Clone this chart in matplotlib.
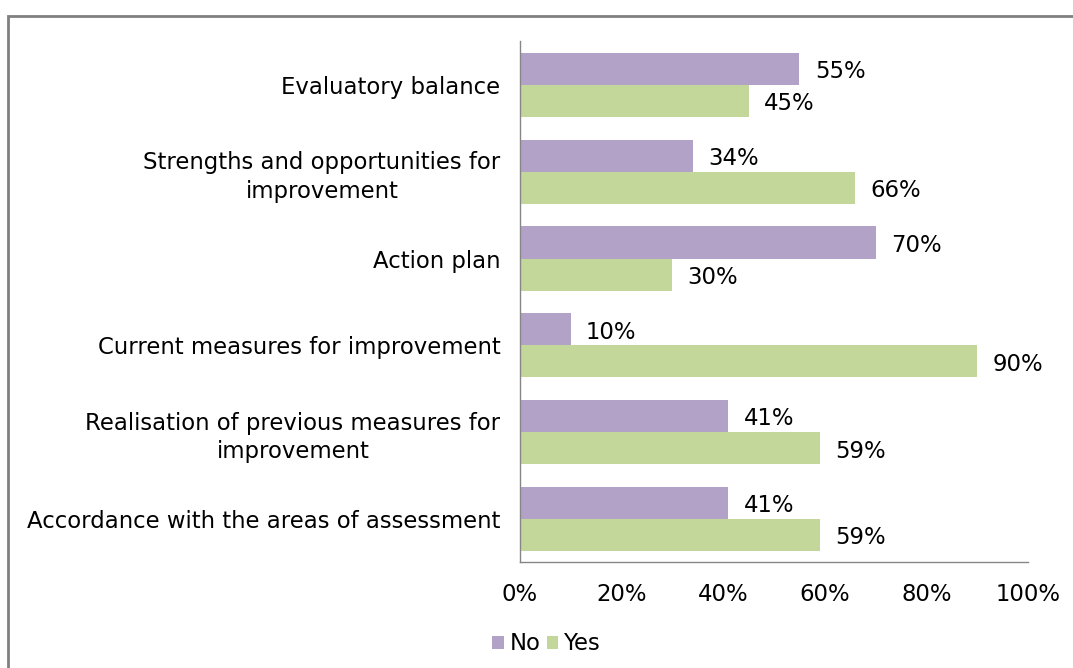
import matplotlib
matplotlib.use('Agg')
import matplotlib.pyplot as plt
import numpy as np
from matplotlib.patches import Rectangle

categories = [
    'Evaluatory balance',
    'Strengths and opportunities for\nimprovement',
    'Action plan',
    'Current measures for improvement',
    'Realisation of previous measures for\nimprovement',
    'Accordance with the areas of assessment',
]
no_values = [55, 34, 70, 10, 41, 41]
yes_values = [45, 66, 30, 90, 59, 59]
x_ticks = [0, 20, 40, 60, 80, 100]

purple = '#B3A2C7'
green = '#C4D79B'
axis_gray = '#868686'
fs = 16.4

plt.rcParams['font.family'] = ['DejaVu Sans']

fig = plt.figure(figsize=(10.73, 6.68), dpi=100)
ax = fig.add_axes([0.4846, 0.158, 0.4735, 0.78])

y = np.arange(len(categories))
h = 0.37
bars_no = ax.barh(y - h / 2, no_values, height=h, color=purple, label='No')
bars_yes = ax.barh(y + h / 2, yes_values, height=h, color=green, label='Yes')

for bars, vals in ((bars_no, no_values), (bars_yes, yes_values)):
    for bar, v in zip(bars, vals):
        ax.annotate(f'{v}%', (bar.get_width(), bar.get_y() + bar.get_height() / 2),
                    xytext=(11, -2), textcoords='offset points',
                    ha='left', va='center', fontsize=fs, color='black')

ax.set_ylim(len(categories) - 0.5, -0.5)
ax.set_xlim(0, 100)
ax.set_yticks(y)
ax.set_yticklabels(categories, fontsize=fs, multialignment='center', linespacing=1.3)
ax.set_xticks(x_ticks)
ax.set_xticklabels([f'{t}%' for t in x_ticks], fontsize=fs)
ax.tick_params(axis='x', length=0, pad=15)
ax.tick_params(axis='y', length=0, pad=14)

for side in ('top', 'right'):
    ax.spines[side].set_visible(False)
for side in ('left', 'bottom'):
    ax.spines[side].set_color(axis_gray)
    ax.spines[side].set_linewidth(1)

ax.legend(loc='upper left', bbox_to_anchor=(-0.095, -0.095), ncol=2, frameon=False,
          fontsize=fs, handlelength=0.5, handleheight=0.5, handletextpad=0.25,
          columnspacing=0.3)

# outer chart border (runs off the right and bottom edge)
fig.patches.append(Rectangle((8 / 1073, -0.05), 1.2, (668 - 16) / 668 + 0.05,
                             transform=fig.transFigure, fill=False,
                             edgecolor='#808080', linewidth=2))

fig.savefig('out.png', dpi=100)
